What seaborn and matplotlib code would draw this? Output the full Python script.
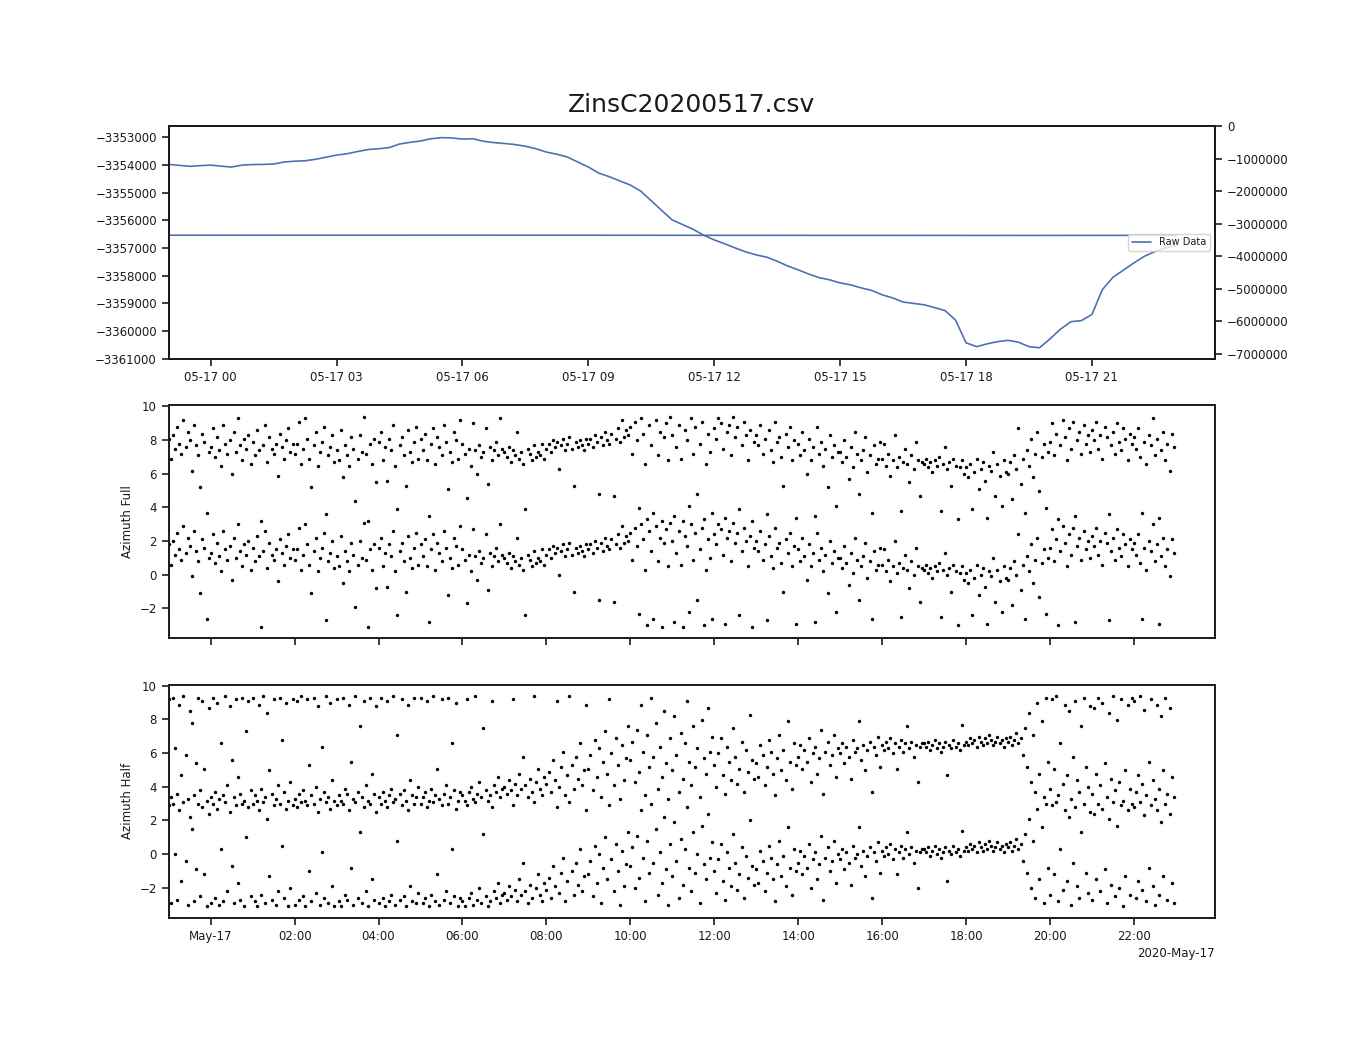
import numpy as np
import pandas as pd
import matplotlib
matplotlib.use("Agg")
import matplotlib.pyplot as plt
import matplotlib.dates as mdates
import seaborn as sns

# depth trace, one reading every 15 minutes from 2020-05-16 23:00
raw_data = [
    -3353985, -3354020, -3354055, -3354030, -3354010, -3354050, -3354080, -3354010,
    -3353990, -3353985, -3353970, -3353900, -3353870, -3353855, -3353800, -3353725,
    -3353650, -3353600, -3353520, -3353450, -3353420, -3353380, -3353250, -3353190,
    -3353140, -3353060, -3353020, -3353030, -3353070, -3353060, -3353150, -3353200,
    -3353230, -3353270, -3353330, -3353420, -3353540, -3353620, -3353720, -3353900,
    -3354080, -3354300, -3354430, -3354580, -3354730, -3354950, -3355300, -3355650,
    -3355990, -3356160, -3356330, -3356540, -3356710, -3356850, -3357000, -3357140,
    -3357250, -3357330, -3357480, -3357650, -3357790, -3357940, -3358070, -3358150,
    -3358260, -3358330, -3358440, -3358530, -3358690, -3358800, -3358950, -3359000,
    -3359050, -3359150, -3359260, -3359600, -3360420, -3360560, -3360460, -3360380,
    -3360330, -3360400, -3360560, -3360600, -3360280, -3359930, -3359660, -3359620,
    -3359400, -3358500, -3358060, -3357800, -3357540, -3357300, -3357130, -3357000,
    -3356920,
]

# azimuth phase in [-pi, pi], one reading every 3 minutes (one row per hour)
az_full = [
    1.8, 0.6, 2.0, 1.2, 2.5, 1.5, 0.9, 2.9, 1.3, 2.2, 1.7, -0.1, 2.6, 1.4, 0.8, -1.1, 2.1, 1.6, -2.6, 1.0,
    1.3, 2.4, 0.7, 1.9, 1.1, 0.2, 2.6, 1.5, 0.9, 1.7, -0.3, 2.2, 1.0, 3.0, 1.4, 0.5, 1.8, 1.2, 2.0, 0.3,
    1.6, 0.8, 2.3, 1.1, -3.1, 1.4, 2.6, 0.4, 1.9, 1.2, 0.9, 1.5, -0.4, 2.1, 1.3, 0.6, 1.7, 2.4, 1.0, 1.5,
    0.9, 1.5, 2.8, 0.3, 1.2, 3.0, 1.8, 0.6, -1.1, 1.4, 2.2, 0.2, 1.0, 1.6, 2.5, -2.7, 0.8, 1.3, 2.0, 0.4,
    1.1, 0.5, 2.3, -0.5, 1.4, 0.8, 0.2, 1.9, 1.2, -1.9, 0.6, 2.0, 1.0, 3.1, 0.9, -3.1, 1.5, 0.3, 1.8, -0.8,
    1.6, 2.2, 0.5, 1.3, -0.7, 1.8, 1.1, 2.6, 0.2, -2.4, 1.4, 1.9, 0.8, -1.0, 2.3, 1.0, 0.4, 1.6, 2.5, 0.6,
    1.8, 1.1, 2.1, 0.5, -2.8, 1.5, 2.4, 0.3, 1.9, 1.3, 0.8, 2.6, 1.6, -1.2, 1.0, 0.4, 2.2, 1.7, 0.6, 2.9,
    1.5, 0.9, -1.7, 1.2, 0.2, 2.7, 1.1, -0.3, 1.4, 0.7, 1.0, 2.4, -0.9, 1.3, 0.5, 1.1, 1.6, 0.8, 3.0, 1.2,
    1.0, 0.7, 1.3, 0.4, 1.1, 0.8, 2.2, 0.6, 1.0, 0.3, -2.4, 1.2, 0.9, 0.5, 1.4, 0.7, 1.0, 0.8, 1.5, 0.6,
    1.2, 1.5, 1.0, 1.7, 1.3, 1.6, 0.0, 1.4, 1.8, 1.1, 1.5, 1.9, 1.2, -1.0, 1.6, 1.3, 1.7, 1.4, 1.1, 1.8,
    1.5, 1.8, 1.3, 2.0, 1.6, -1.5, 1.9, 1.4, 2.2, 1.7, 1.5, 2.1, -1.6, 1.8, 2.4, 1.6, 2.9, 1.9, 2.3, 2.0,
    2.5, 0.9, 2.8, 1.7, -2.3, 3.0, 2.1, 0.3, -3.0, 2.6, 1.4, -2.6, 2.9, 0.8, 2.2, -3.1, 1.9, 2.7, 0.5, 3.1,
    2.0, -2.8, 1.3, 2.6, 0.6, -3.1, 2.3, 1.7, -2.2, 3.0, 0.9, 2.5, -1.5, 1.5, 2.8, -3.0, 0.3, 2.1, 1.0, -2.6,
    2.4, 1.8, 3.0, 2.7, 1.2, -2.9, 2.2, 2.6, 0.8, 3.1, 1.9, 2.5, -2.4, 1.4, 2.8, 2.0, 0.5, 2.3, -3.1, 1.6,
    2.0, 1.4, 2.6, 0.9, 1.8, -2.7, 2.3, 1.1, 0.4, 2.8, 1.6, 1.9, 0.7, -1.0, 2.1, 1.3, 2.5, 0.5, 1.7, -2.9,
    1.5, 0.8, 2.2, 1.1, -0.3, 1.8, 0.5, 1.3, -2.8, 2.5, 0.9, 1.6, 0.2, 1.2, -1.1, 2.0, 0.7, 1.4, -2.2, 1.0,
    1.0, 0.4, 1.7, 0.7, -0.6, 1.3, 0.1, 2.2, 0.9, -1.5, 0.5, 1.1, 1.9, -0.2, 0.8, -2.6, 1.4, 0.3, 0.6, 1.6,
    0.6, 1.5, 0.2, 0.9, -0.4, 0.5, 2.0, 0.1, 0.7, -2.5, 0.4, 1.2, 0.3, -0.8, 0.8, 0.0, 1.6, 0.5, -1.6, 0.4,
    0.3, 0.6, 0.1, 0.4, -0.2, 0.5, 0.2, 0.7, -2.5, 0.3, 1.3, 0.0, 0.4, -1.0, 0.6, 0.2, -3.0, 0.1, 0.5, -0.3,
    0.1, -0.5, 0.3, -2.4, -0.2, 0.6, -1.2, 0.0, 0.4, -0.7, -2.9, 0.2, -0.1, 1.0, -1.6, 0.3, -0.4, -2.2, 0.5, -0.2,
    -0.3, 0.4, -1.8, 0.8, 0.0, 2.4, -0.9, 0.6, -2.6, 1.1, 0.2, 1.8, -0.5, 0.9, 2.2, -1.3, 0.7, 1.5, -2.3, 1.0,
    1.6, 2.7, 0.8, 2.1, -3.0, 1.4, 2.9, 1.9, 0.5, 2.4, 1.2, 2.8, -2.8, 1.7, 2.2, 0.9, 2.6, 1.5, 2.0, 1.0,
    2.3, 1.7, 2.8, 1.2, 2.0, 0.6, 2.5, 1.9, -2.7, 1.4, 2.2, 0.9, 2.7, 1.6, 1.1, 2.4, 1.8, 0.5, 2.1, 1.5,
    1.9, 1.2, 2.4, 0.7, -2.6, 1.6, 0.3, 2.0, 1.4, 3.0, 0.8, 1.8, -2.9, 1.1, 2.2, 0.5, 1.5, -0.1, 2.1, 1.3,
]

az_half = [
    2.9, -2.9, 3.0, 0.0, -2.7, 2.6, -1.6, 3.1, -0.4, -3.0, 2.2, 1.5, -2.8, -0.9, 3.0, -2.5, 2.8, -1.2, -3.1, 2.4,
    -2.9, 3.0, -2.6, 2.7, -3.0, 0.3, -2.8, 3.1, -2.2, 2.5, -0.7, -2.9, 2.9, -1.7, -2.7, 3.0, -3.1, 1.0, 2.8, -2.5,
    3.0, -2.8, -3.1, 2.6, -2.4, 3.1, -2.9, 2.1, -1.3, -2.7, 2.9, -3.0, -2.2, 3.0, 0.5, -2.6, 2.7, -3.1, -2.0, 2.9,
    -3.0, 2.8, -2.7, 3.1, -2.5, -3.1, 2.9, -1.0, -2.8, 3.0, -2.3, 2.5, -3.0, 0.1, -2.6, 3.1, -2.9, 2.7, -1.9, -3.1,
    2.9, -2.8, -3.1, 3.0, -2.4, -2.7, 2.6, -0.8, -3.0, 3.1, -2.6, 1.3, -2.9, 2.8, -2.2, -3.1, 3.0, -1.5, -2.7, 2.5,
    -2.9, 3.0, -2.6, -3.1, 2.8, -2.8, -2.4, 3.1, -3.0, 0.8, -2.7, 2.9, -2.5, -3.1, 2.6, -1.9, -2.8, 3.0, -2.9, -2.3,
    3.0, -2.9, -2.6, 2.8, -3.1, -2.4, 3.1, -2.8, -1.2, -3.0, 2.9, -2.7, -2.2, 3.0, -2.9, 0.3, -2.5, 2.7, -3.1, -2.6,
    -2.8, -3.1, 2.9, -2.6, -2.3, -3.0, 3.1, -2.7, -2.0, -2.9, 1.2, -2.5, -3.1, -2.8, 2.8, -2.2, -2.6, -1.7, -2.9, -2.4,
    -2.3, -2.7, -1.9, -2.5, 2.9, -2.1, -2.8, -1.5, -2.4, -0.5, -2.2, -2.9, -1.8, -2.6, 3.1, -2.0, -1.2, -2.4, -2.8, -1.7,
    -2.1, -1.4, -2.6, -0.7, -1.9, 2.8, -2.3, -1.1, -0.2, -2.8, -1.6, 3.1, -1.0, -2.4, -0.5, -1.8, 0.3, -2.2, -1.3, 2.6,
    -1.2, -0.4, -2.5, 0.5, -1.7, 0.0, -2.9, -0.8, 1.0, -1.5, 2.9, -0.3, -2.2, 0.6, -1.0, -3.0, 0.2, -1.9, -0.6, 1.3,
    -0.7, 0.4, -2.0, 1.1, -1.4, 2.6, -0.2, -2.8, 0.8, -1.1, 3.0, -0.5, 1.5, -2.4, 0.1, -1.7, 2.2, -0.9, -3.0, 0.6,
    -1.3, 1.9, -0.4, -2.6, 0.9, -1.8, 0.3, 2.8, -0.8, -2.2, 1.3, -1.1, 0.0, -2.9, 1.7, -0.6, -1.5, 2.4, -0.2, 0.7,
    -1.0, -2.3, -0.3, 0.6, -1.6, -2.7, 0.1, -0.8, -1.9, 1.2, -0.5, -2.1, -1.2, 0.4, -2.6, -0.1, -1.4, 2.0, -0.7, -1.8,
    -0.9, -1.7, 0.2, -0.4, -2.2, -1.1, 0.5, -0.2, -1.5, -2.8, -0.6, 0.8, -1.3, -0.1, -1.9, 1.6, -0.8, -2.4, 0.3, -1.0,
    -0.5, 0.2, -1.2, -0.1, -0.8, 0.6, -2.0, -0.3, 0.1, -1.5, -0.6, 1.1, -2.7, -0.2, 0.4, -1.0, -0.4, 0.8, -1.7, 0.0,
    -0.3, 0.3, -0.9, 0.1, -0.5, -1.8, 0.5, -0.2, 0.0, 1.6, -0.7, 0.2, -1.3, -0.1, 0.4, -2.6, 0.1, -0.4, 0.7, -1.1,
    0.2, -0.1, 0.4, 0.0, 0.6, -0.3, 0.3, -1.2, 0.1, 0.5, -0.2, 0.3, 1.3, 0.0, 0.4, -0.5, 0.2, -2.0, 0.1, 0.3,
    0.3, 0.1, 0.4, -0.1, 0.2, 0.5, 0.0, 0.3, -0.2, 0.1, 0.4, -1.6, 0.2, 0.0, 0.5, 0.1, 0.3, -0.1, 1.4, 0.2,
    0.4, 0.2, 0.6, 0.3, 0.5, 0.1, 0.7, 0.4, 0.2, 0.6, 0.3, 0.8, 0.5, 0.2, 0.4, 0.7, 0.3, 0.5, 0.1, 0.6,
    0.4, 0.7, 0.2, 0.5, 0.9, 0.3, 0.6, -0.4, 1.2, -1.1, 2.1, -2.0, 0.8, -2.6, 2.7, -1.5, 1.6, -2.9, 3.0, -0.8,
    -2.4, 2.9, -1.2, 3.1, -2.8, 0.3, -2.1, 2.6, -1.6, 2.2, -3.0, -0.5, 2.8, -1.9, -2.6, 1.3, 3.0, -1.1, -2.3, 2.5,
    -2.7, 2.4, -1.5, 3.0, -2.2, 2.7, -0.9, -2.9, 2.1, -1.8, 3.1, -2.5, 1.7, -2.0, 2.9, -3.1, -1.3, 2.6, -2.4, 3.0,
    2.8, -2.6, -1.6, 3.1, -2.1, 2.3, -2.8, -0.8, 2.9, -1.9, -3.0, 2.6, -2.4, 1.9, -1.3, 3.0, -2.7, 2.4, -1.7, -2.9,
]

start = pd.Timestamp("2020-05-16 23:00")
line_df = pd.DataFrame({
    "time": pd.date_range(start, periods=len(raw_data), freq="15min"),
    "depth": raw_data,
})


def wrapped(values):
    # each phase is drawn twice: as read and one turn (2*pi) higher
    t = pd.date_range(start, periods=len(values), freq="3min")
    v = np.array(values)
    return pd.DataFrame({"time": np.concatenate([t, t]),
                         "az": np.concatenate([v, v + 2 * np.pi])})


full_df = wrapped(az_full)
half_df = wrapped(az_half)

sns.set_style("ticks")
plt.rcParams.update({
    "font.family": ["DejaVu Sans"],
    "axes.linewidth": 1.4,
    "axes.edgecolor": ".1",
    "text.color": ".1",
    "xtick.color": ".1",
    "ytick.color": ".1",
    "axes.labelcolor": ".1",
    "xtick.major.size": 5,
    "ytick.major.size": 5,
    "xtick.major.width": 1.2,
    "ytick.major.width": 1.2,
    "xtick.labelsize": 8.5,
    "ytick.labelsize": 8.5,
    "axes.labelsize": 8.5,
})
blue = sns.color_palette("deep")[0]

fig = plt.figure(figsize=(13.5, 10.5), dpi=100)
ax1 = fig.add_subplot(311)
ax2 = fig.add_subplot(312)
ax3 = fig.add_subplot(313, sharex=ax2)
fig.subplots_adjust(left=0.125, right=0.9, top=0.88, bottom=0.126, hspace=0.2)

xlim = (pd.Timestamp("2020-05-16 23:00"), pd.Timestamp("2020-05-17 23:56"))

# top panel: trace on its own scale plus the same trace on a wide twin scale
sns.lineplot(data=line_df, x="time", y="depth", ax=ax1, color=blue, linewidth=1.2)
ax1.set_ylim(-3361000, -3352600)
ax1.set_xlim(xlim)
ax1.ticklabel_format(axis="y", style="plain", useOffset=False)
ax1.xaxis.set_major_locator(mdates.HourLocator(byhour=range(0, 24, 3)))
ax1.xaxis.set_major_formatter(mdates.DateFormatter("%m-%d %H"))
ax1.set_xlabel("")
ax1.set_ylabel("")
ax1.set_title("ZinsC20200517.csv", fontsize=18, pad=10)

ax1r = ax1.twinx()
sns.lineplot(data=line_df, x="time", y="depth", ax=ax1r, color=blue,
             linewidth=1.2, label="Raw Data")
ax1r.set_ylim(-7150000, 0)
ax1r.ticklabel_format(axis="y", style="plain", useOffset=False)
ax1r.set_ylabel("")
ax1r.legend(loc="center right", fontsize=7)
ax1r.set_xlim(xlim)

for ax, df, name in [(ax2, full_df, "Azimuth Full"), (ax3, half_df, "Azimuth Half")]:
    sns.scatterplot(data=df, x="time", y="az", ax=ax, color="black",
                    s=6, linewidth=0)
    ax.set_ylim(-3.77, 10.05)
    ax.set_yticks([-2, 0, 2, 4, 6, 8, 10])
    ax.set_ylabel(name)
    ax.set_xlabel("")

locator = mdates.HourLocator(interval=2)
ax3.xaxis.set_major_locator(locator)
ax3.xaxis.set_major_formatter(mdates.ConciseDateFormatter(locator))
ax3.set_xlim(xlim)
ax2.tick_params(labelbottom=False)
ax2.xaxis.offsetText.set_visible(False)

fig.savefig("out.png", dpi=100)
